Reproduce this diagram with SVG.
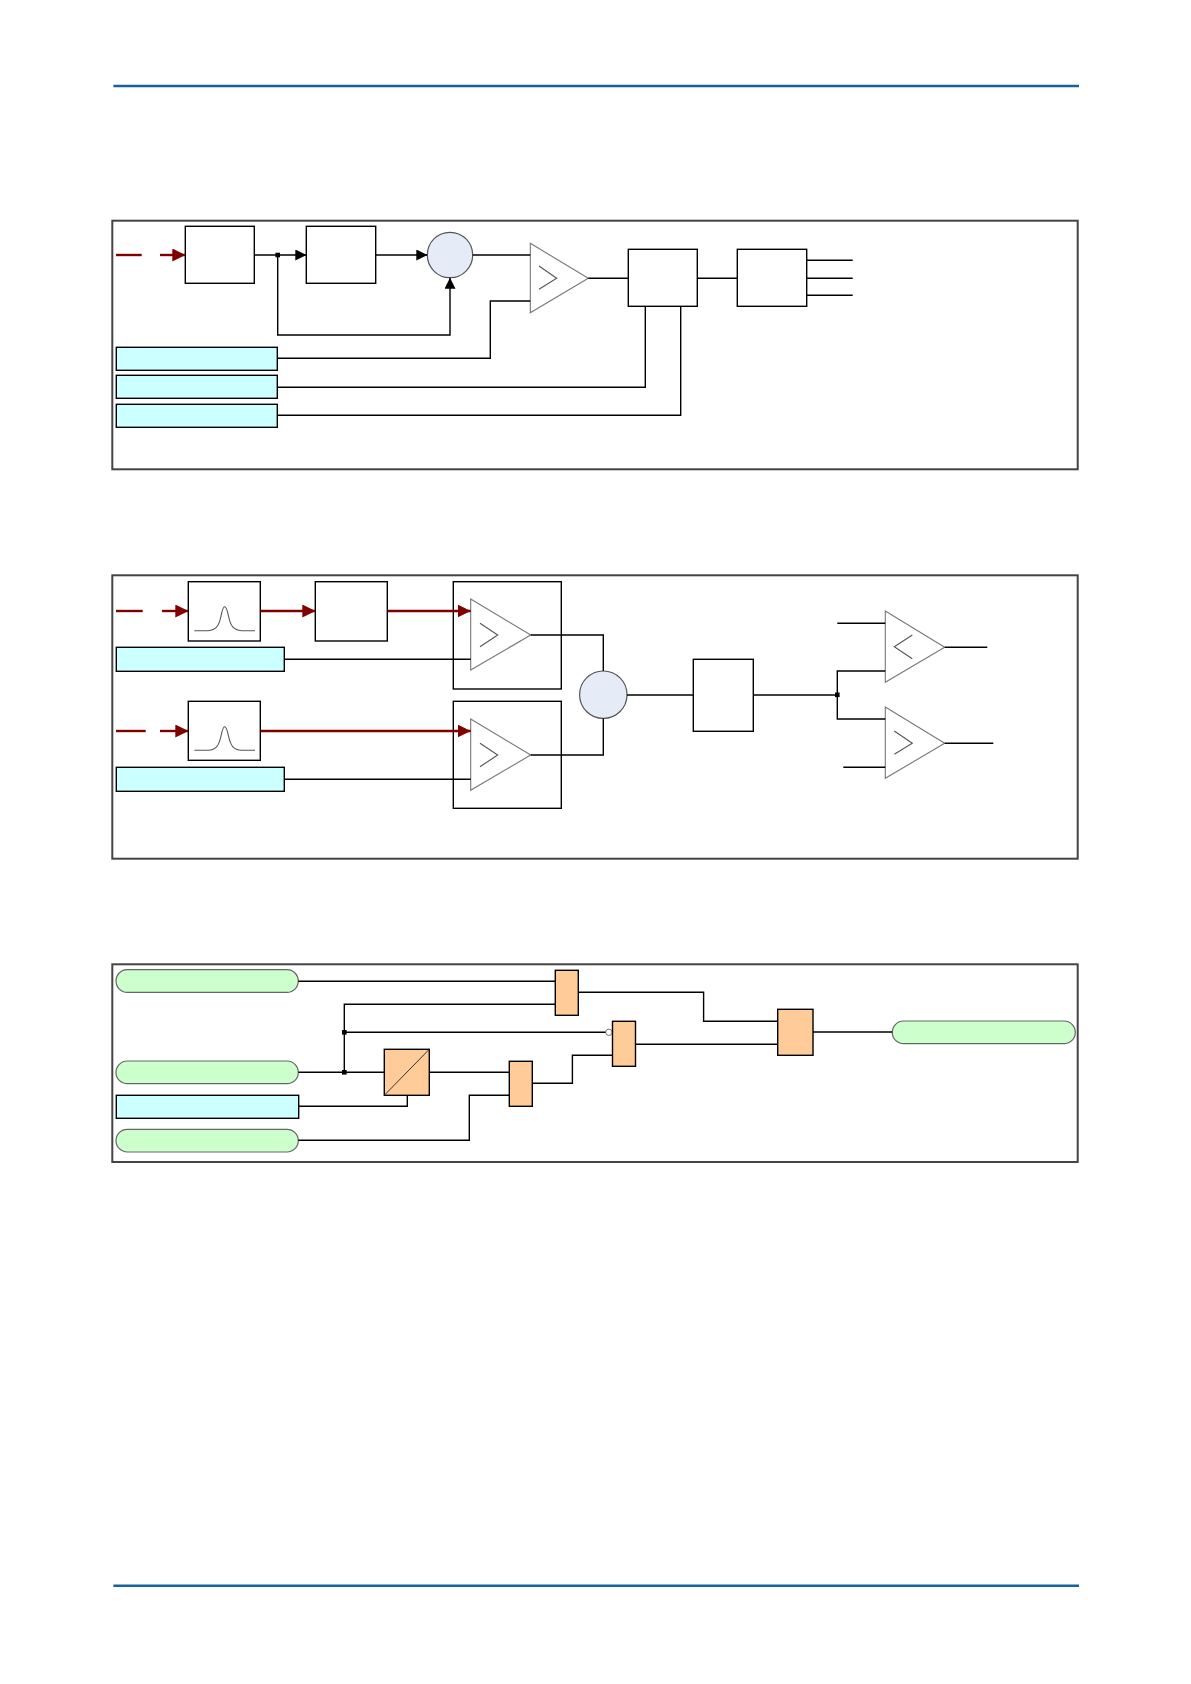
<svg xmlns="http://www.w3.org/2000/svg" width="1191" height="1684" viewBox="0 0 1191 1684">
<style>
.frame{fill:none;stroke:#444;stroke-width:2}
.rule{stroke:#17629e;stroke-width:2.6}
.box{fill:#fff;stroke:#000;stroke-width:1.4}
.obox{fill:none;stroke:#000;stroke-width:1.4}
.cyan{fill:#ccffff;stroke:#000;stroke-width:1.4}
.pill{fill:#ccffcc;stroke:#666;stroke-width:1.2}
.gate{fill:#ffcc99;stroke:#000;stroke-width:1.4}
.sum{fill:#e6ecf7;stroke:#555;stroke-width:1.2}
.amp{fill:#fff;stroke:#777;stroke-width:1.1}
.sym{fill:none;stroke:#555;stroke-width:1.1}
.w{fill:none;stroke:#000;stroke-width:1.4}
.r{fill:none;stroke:#800000;stroke-width:2.4}
.dot{fill:#000}
</style>
<defs>
<marker id="ab" markerUnits="userSpaceOnUse" markerWidth="11" markerHeight="11" refX="11" refY="5.5" orient="auto">
<path d="M0,0 L11,5.5 L0,11 z" fill="#000"/>
</marker>
<marker id="ar" markerUnits="userSpaceOnUse" markerWidth="13" markerHeight="13" refX="13" refY="6.5" orient="auto">
<path d="M0,0 L13,6.5 L0,13 z" fill="#800000"/>
</marker>
</defs>
<rect width="1191" height="1684" fill="#fff"/>
<line class="rule" x1="113.4" y1="86" x2="1079" y2="86"/>
<line class="rule" x1="113.4" y1="1585.7" x2="1079" y2="1585.7"/>

<rect class="frame" x="112.3" y="220.7" width="965.4" height="248.6"/>
<rect class="frame" x="112.3" y="575.3" width="965.4" height="283.4"/>
<rect class="frame" x="112.3" y="964.3" width="965.4" height="197.7"/>

<!-- panel 1 nodes -->
<g id="p1-box1"><rect class="box" x="185.3" y="226.3" width="69" height="57"/></g>
<g id="p1-box2"><rect class="box" x="306.3" y="226.3" width="69.4" height="57"/></g>
<g id="p1-sum"><circle class="sum" cx="450" cy="255" r="22.7"/></g>
<g id="p1-comp"><polygon class="amp" points="530.3,243.3 588.3,278.3 530.3,312.7"/><polyline class="sym" points="539,266 556.7,278.3 539,289.3"/></g>
<g id="p1-box3"><rect class="box" x="628.3" y="249.3" width="69" height="57"/></g>
<g id="p1-box4"><rect class="box" x="737.3" y="249.3" width="69.4" height="57"/></g>
<g id="p1-set1"><rect class="cyan" x="116.3" y="347.3" width="161" height="23"/></g>
<g id="p1-set2"><rect class="cyan" x="116.3" y="375.3" width="161" height="23"/></g>
<g id="p1-set3"><rect class="cyan" x="116.3" y="404.3" width="161" height="23"/></g>

<!-- panel 2 nodes -->
<g id="p2-filter1"><rect class="box" x="188.3" y="581.7" width="72" height="59.3"/>
<path class="sym" d="M194.3,630.7 L208,630.7 C216,630.2 219,626 221,616 C222.5,608.5 223.5,606.7 224.7,606.7 C226,606.7 227,608.5 228.5,616 C230.5,626 233.5,630.2 241.5,630.7 L255,630.7"/></g>
<g id="p2-box"><rect class="box" x="315.3" y="581.7" width="72" height="59.3"/></g>
<g id="p2-amp1"><rect class="obox" x="453.3" y="581.7" width="108" height="107.3"/>
<polygon class="amp" points="470.7,599 530.7,635 470.7,670"/><polyline class="sym" points="480,623.3 497.7,635 480,646.7"/></g>
<g id="p2-set1"><rect class="cyan" x="116.3" y="647.3" width="168" height="24"/></g>
<g id="p2-filter2"><rect class="box" x="188.3" y="701.3" width="72" height="59"/>
<path class="sym" d="M194.3,750.3 L208,750.3 C216,749.8 219,745.6 221,736 C222.5,728.5 223.5,726.7 224.7,726.7 C226,726.7 227,728.5 228.5,736 C230.5,745.6 233.5,749.8 241.5,750.3 L255,750.3"/></g>
<g id="p2-amp2"><rect class="obox" x="453.3" y="701.3" width="108" height="107"/>
<polygon class="amp" points="470.7,719 530.7,755 470.7,790.3"/><polyline class="sym" points="480,743.3 497.7,755 480,766.7"/></g>
<g id="p2-set2"><rect class="cyan" x="116.3" y="767.3" width="168" height="24"/></g>
<g id="p2-sum"><circle class="sum" cx="603.3" cy="694.7" r="23.7"/></g>
<g id="p2-box2"><rect class="box" x="693.3" y="659.3" width="60" height="72"/></g>
<g id="p2-comp1"><polygon class="amp" points="885.3,611 944.7,647.3 885.3,682.3"/><polyline class="sym" points="912.3,635 894.3,646.7 912.3,658.7"/></g>
<g id="p2-comp2"><polygon class="amp" points="885.3,707 944.7,743.3 885.3,778.3"/><polyline class="sym" points="894.3,731 912.3,743.3 894.3,754.3"/></g>

<!-- panel 3 nodes -->
<g id="p3-in1"><rect class="pill" x="116" y="969.7" width="182.3" height="22.7" rx="11.3"/></g>
<g id="p3-in2"><rect class="pill" x="116" y="1061" width="182.3" height="22.7" rx="11.3"/></g>
<g id="p3-set"><rect class="cyan" x="116.3" y="1095.3" width="182.4" height="23"/></g>
<g id="p3-in3"><rect class="pill" x="116" y="1129.3" width="182.3" height="22.7" rx="11.3"/></g>
<g id="p3-conv"><rect class="gate" x="384.3" y="1049.3" width="45" height="46"/><line x1="385" y1="1094.6" x2="428.6" y2="1050" stroke="#333" stroke-width="1"/></g>
<g id="p3-and3"><rect class="gate" x="509.3" y="1061.3" width="23" height="45"/></g>
<g id="p3-and1"><rect class="gate" x="555.3" y="970.3" width="23" height="45"/></g>
<g id="p3-and2"><circle cx="608.9" cy="1032.3" r="3.2" fill="#fff" stroke="#777" stroke-width="1"/><rect class="gate" x="612.5" y="1021.3" width="23" height="45"/></g>
<g id="p3-and4"><rect class="gate" x="777.7" y="1009.3" width="35.3" height="46"/></g>
<g id="p3-out"><rect class="pill" x="892.3" y="1021" width="183" height="22.7" rx="11.3"/></g>

<g id="connectors">
<!-- panel 1 -->
<line class="r" x1="116" y1="255" x2="141.7" y2="255"/>
<line class="r" x1="160" y1="255" x2="185.3" y2="255" marker-end="url(#ar)"/>
<line class="w" x1="254.3" y1="255" x2="306.3" y2="255" marker-end="url(#ab)"/>
<line class="w" x1="375.7" y1="255" x2="427.3" y2="255" marker-end="url(#ab)"/>
<polyline class="w" points="277.7,255 277.7,335 450,335 450,277.7" marker-end="url(#ab)"/>
<line class="w" x1="472.7" y1="255" x2="530.3" y2="255"/>
<polyline class="w" points="277.3,358.3 490.3,358.3 490.3,301 530.3,301"/>
<line class="w" x1="588.3" y1="278.3" x2="628.3" y2="278.3"/>
<polyline class="w" points="277.3,387.3 645.3,387.3 645.3,306.3"/>
<polyline class="w" points="277.3,415.3 680.7,415.3 680.7,306.3"/>
<line class="w" x1="697.3" y1="278.3" x2="737.3" y2="278.3"/>
<line class="w" x1="806.7" y1="260.3" x2="852.7" y2="260.3"/>
<line class="w" x1="806.7" y1="278.3" x2="852.7" y2="278.3"/>
<line class="w" x1="806.7" y1="295.3" x2="852.7" y2="295.3"/>
<rect class="dot" x="275.4" y="252.7" width="4.6" height="4.6"/>
<!-- panel 2 -->
<line class="r" x1="116" y1="611" x2="142.7" y2="611"/>
<line class="r" x1="162" y1="611" x2="188.3" y2="611" marker-end="url(#ar)"/>
<line class="r" x1="260.3" y1="611" x2="315.3" y2="611" marker-end="url(#ar)"/>
<line class="r" x1="387.3" y1="611" x2="470.7" y2="611" marker-end="url(#ar)"/>
<line class="w" x1="284.3" y1="659.3" x2="470.7" y2="659.3"/>
<line class="r" x1="116" y1="731" x2="145.7" y2="731"/>
<line class="r" x1="160" y1="731" x2="188.3" y2="731" marker-end="url(#ar)"/>
<line class="r" x1="260.3" y1="731" x2="470.7" y2="731" marker-end="url(#ar)"/>
<line class="w" x1="284.3" y1="779.3" x2="470.7" y2="779.3"/>
<polyline class="w" points="530.7,635 603.3,635 603.3,671"/>
<polyline class="w" points="530.7,755 603.3,755 603.3,718.4"/>
<line class="w" x1="627" y1="695" x2="693.3" y2="695"/>
<line class="w" x1="753.3" y1="695" x2="837.3" y2="695"/>
<polyline class="w" points="885.3,671 837.3,671 837.3,719 885.3,719"/>
<line class="w" x1="837.3" y1="623.3" x2="885.3" y2="623.3"/>
<line class="w" x1="843.3" y1="767.3" x2="885.3" y2="767.3"/>
<line class="w" x1="944.7" y1="647.3" x2="987.3" y2="647.3"/>
<line class="w" x1="944.7" y1="743.3" x2="993.3" y2="743.3"/>
<rect class="dot" x="835" y="692.5" width="4.6" height="4.6"/>
<!-- panel 3 -->
<line class="w" x1="298.3" y1="981.3" x2="555.3" y2="981.3"/>
<polyline class="w" points="555.3,1004.3 344.3,1004.3 344.3,1072.3"/>
<line class="w" x1="298.3" y1="1072.3" x2="384.3" y2="1072.3"/>
<line class="w" x1="344.3" y1="1032.3" x2="605.6" y2="1032.3"/>
<polyline class="w" points="298.7,1106.3 407.3,1106.3 407.3,1095.3"/>
<line class="w" x1="429.3" y1="1072.3" x2="509.3" y2="1072.3"/>
<polyline class="w" points="298.3,1140.3 469.3,1140.3 469.3,1095.3 509.3,1095.3"/>
<polyline class="w" points="532.3,1083.3 572.4,1083.3 572.4,1055.3 612.5,1055.3"/>
<polyline class="w" points="578.3,992.3 703.6,992.3 703.6,1021.3 777.7,1021.3"/>
<line class="w" x1="635.6" y1="1044.3" x2="777.7" y2="1044.3"/>
<line class="w" x1="813" y1="1032" x2="892.3" y2="1032"/>
<rect class="dot" x="342" y="1030" width="4.6" height="4.6"/>
<rect class="dot" x="342" y="1070" width="4.6" height="4.6"/>
</g>
</svg>
